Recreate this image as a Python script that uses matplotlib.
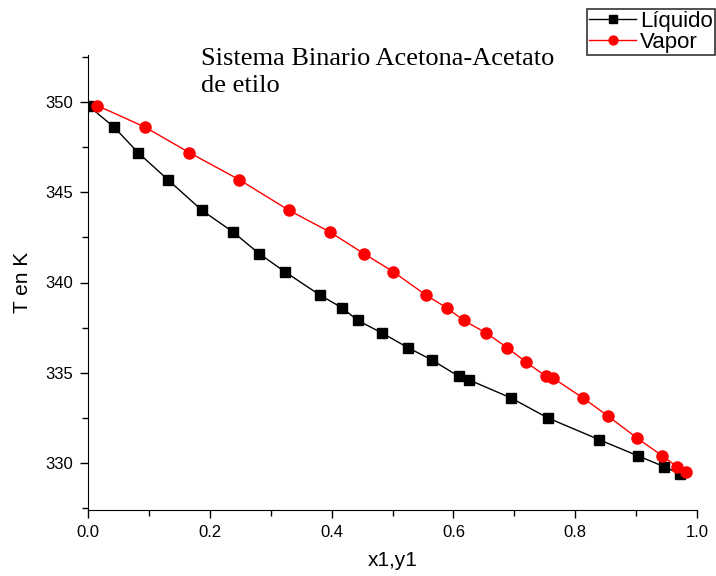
import matplotlib
matplotlib.use("Agg")
import matplotlib.pyplot as plt
from matplotlib.ticker import MultipleLocator

x_liq = [0.0, 0.043, 0.082, 0.131, 0.187, 0.238, 0.281, 0.323, 0.381, 0.417, 0.443,
         0.483, 0.525, 0.565, 0.609, 0.626, 0.695, 0.755, 0.839, 0.903, 0.946, 0.972]
T_liq = [349.8, 348.6, 347.2, 345.7, 344.0, 342.8, 341.6, 340.6, 339.3, 338.6, 337.9,
         337.2, 336.4, 335.7, 334.8, 334.6, 333.6, 332.5, 331.3, 330.4, 329.8, 329.4]
y_vap = [0.015, 0.094, 0.166, 0.248, 0.330, 0.397, 0.453, 0.501, 0.555, 0.589, 0.617,
         0.654, 0.688, 0.719, 0.752, 0.764, 0.813, 0.854, 0.901, 0.943, 0.967, 0.982]
T_vap = [349.8, 348.6, 347.2, 345.7, 344.0, 342.8, 341.6, 340.6, 339.3, 338.6, 337.9,
         337.2, 336.4, 335.6, 334.8, 334.7, 333.6, 332.6, 331.4, 330.4, 329.8, 329.5]

title_lines = ["Sistema Binario Acetona-Acetato", "de etilo"]

plt.rcParams['font.family'] = ['Liberation Sans', 'DejaVu Sans']

W, H = 716, 576
fig = plt.figure(figsize=(W / 100, H / 100), dpi=100)
ax = fig.add_axes([88 / W, 1 - 510 / H, (697 - 88) / W, (510 - 55) / H])

l1, = ax.plot(x_liq, T_liq, color='black', lw=1.0, marker='s', markersize=7, label='Líquido')
l2, = ax.plot(y_vap, T_vap, color='red', lw=1.0, marker='o', markersize=8, label='Vapor')

ax.set_xlim(0, 1.0)
ax.set_ylim(327.4, 352.6)
ax.xaxis.set_major_locator(MultipleLocator(0.2))
ax.xaxis.set_minor_locator(MultipleLocator(0.1))
ax.yaxis.set_major_locator(MultipleLocator(5))
ax.yaxis.set_minor_locator(MultipleLocator(2.5))
ax.spines['top'].set_visible(False)
ax.spines['right'].set_visible(False)
ax.tick_params(which='major', direction='out', length=6, width=1, labelsize=12, pad=5)
ax.tick_params(which='minor', direction='out', length=4, width=1)
ax.set_xlabel('x1,y1', fontsize=15)
ax.set_ylabel('T en K', fontsize=15)
ax.xaxis.set_label_coords(0.5, -(560 - 510) / (510 - 55), transform=ax.transAxes)
ax.xaxis.label.set_va('center')
ax.yaxis.set_label_coords(-(88 - 22) / (697 - 88), 0.5, transform=ax.transAxes)
ax.yaxis.label.set_va('center')

serif = ['Liberation Serif', 'DejaVu Serif']
fig.text(201 / W, 1 - 65 / H, title_lines[0], family=serif, fontsize=19, ha='left', va='baseline')
fig.text(201 / W, 1 - 92 / H, title_lines[1], family=serif, fontsize=19, ha='left', va='baseline')

leg = fig.legend(handles=[l1, l2], loc='upper left', bbox_to_anchor=(587 / W, 1 - 9 / H),
                 frameon=True, fancybox=False, edgecolor='black', fontsize=16,
                 handlelength=2.1, borderpad=0.1, labelspacing=0.0, handletextpad=0.2,
                 borderaxespad=0, markerscale=0.8)
leg.get_frame().set_linewidth(1.2)

fig.savefig('out.png', dpi=100)
